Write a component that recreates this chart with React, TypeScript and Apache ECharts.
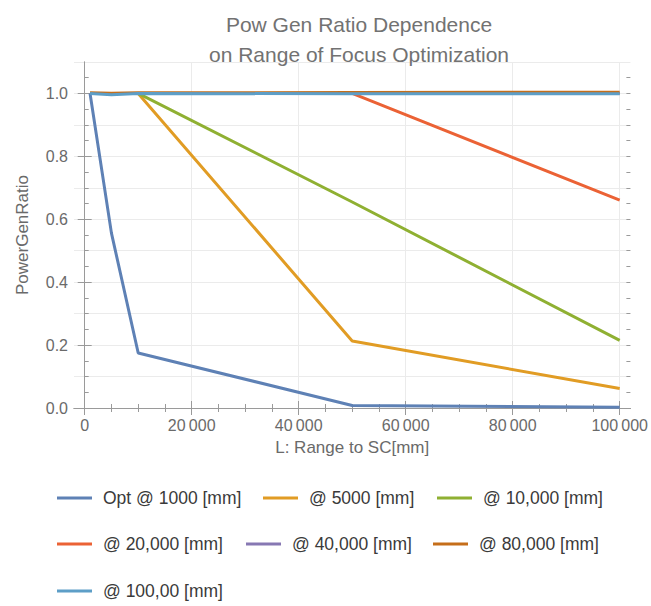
import React, { useEffect, useRef } from "react";
import * as echarts from "echarts";

// ---- data ----
const X_VALUES = [1000, 5000, 10000, 50000, 100000];
const OPT_1000 = [1.0, 0.556, 0.175, 0.008, 0.002];
const AT_5000 = [1.0, 1.0, 1.0, 0.213, 0.062];
const AT_10000 = [1.0, 1.0, 1.0, 0.655, 0.215];
const AT_20000 = [1.0, 1.0, 1.0, 1.0, 0.661];
const AT_40000 = [1.0, 1.0, 1.0, 1.0, 1.0];
const AT_80000 = [1.002, 1.001, 1.002, 1.003, 1.004];
const AT_100000 = [1.0, 0.996, 1.0, 0.999, 0.999];

const SERIES_NAMES = [
  "Opt @ 1000 [mm]",
  "@ 5000 [mm]",
  "@ 10,000 [mm]",
  "@ 20,000 [mm]",
  "@ 40,000 [mm]",
  "@ 80,000 [mm]",
  "@ 100,00 [mm]",
];
const SERIES_VALUES = [OPT_1000, AT_5000, AT_10000, AT_20000, AT_40000, AT_80000, AT_100000];
const COLORS = ["#5E81B5", "#E19C24", "#8FB032", "#EB6235", "#8778B3", "#C56E1A", "#5D9EC7"];

const X_MAJOR_TICKS = [0, 20000, 40000, 60000, 80000, 100000];
const X_MINOR_TICKS: number[] = [];
for (let v = 0; v <= 100000; v += 5000) X_MINOR_TICKS.push(v);
const Y_MAJOR_TICKS = [0, 0.2, 0.4, 0.6, 0.8, 1.0];
const Y_MINOR_TICKS: number[] = [];
for (let i = 0; i <= 21; i++) Y_MINOR_TICKS.push(Math.round(i * 5) / 100);

const TITLE = "Pow Gen Ratio Dependence\non Range of Focus Optimization";
const X_NAME = "L: Range to SC[mm]";
const Y_NAME = "PowerGenRatio";

const FONT = "'Liberation Sans', Arial, sans-serif";
const FRAME = "#9a9a9a";
const TEXT = "#6a6a6a";

function fmtX(v: number) {
  const s = String(Math.round(v));
  if (s.length > 3) return s.slice(0, s.length - 3) + "\u2009" + s.slice(s.length - 3);
  return s;
}

export default function App() {
  const ref = useRef<HTMLDivElement>(null);
  useEffect(() => {
    if (!ref.current) return;
    const chart = echarts.init(ref.current, undefined, { renderer: "svg" });

    const legendPos = [
      [57, 498], [263, 498], [437, 498],
      [57, 544], [246, 544], [433, 544],
      [57, 591],
    ];

    const xBase = { type: "value", min: -2000, max: 102000, gridIndex: 0 };
    const yBase = { type: "value", min: 0, max: 1.1, gridIndex: 0 };

    const option: any = {
      animation: false,
      backgroundColor: "#ffffff",
      title: {
        text: TITLE,
        left: 354,
        top: 4,
        textAlign: "center",
        textStyle: {
          fontFamily: FONT,
          fontSize: 21,
          fontWeight: "normal",
          color: "#727272",
          lineHeight: 30,
        },
      },
      grid: { left: 74, right: 17, top: 62, bottom: 198, containLabel: false },
      legend: SERIES_NAMES.map((n, i) => ({
        data: [{ name: n, icon: "rect" }],
        left: legendPos[i][0],
        top: legendPos[i][1] - 10,
        padding: 0,
        itemWidth: 35,
        itemHeight: 3,
        selectedMode: false,
        textStyle: {
          fontFamily: FONT,
          fontSize: 17.5,
          color: "#3a3a3a",
          lineHeight: 20,
          padding: [0, 0, 0, 6],
        },
      })),
      xAxis: [
        {
          ...xBase,
          position: "bottom",
          name: X_NAME,
          nameLocation: "middle",
          nameGap: 31,
          nameTextStyle: { fontFamily: FONT, fontSize: 17, color: TEXT },
          axisLine: { show: true, lineStyle: { color: FRAME, width: 1 } },
          axisTick: { show: true, inside: true, length: 7, customValues: X_MAJOR_TICKS, lineStyle: { color: FRAME } },
          axisLabel: {
            customValues: X_MAJOR_TICKS,
            formatter: fmtX,
            fontFamily: FONT,
            fontSize: 16,
            color: TEXT,
            margin: 9,
          },
          splitLine: { show: true, lineStyle: { color: "#ebebeb", width: 1 } },
        },
        {
          ...xBase,
          position: "bottom",
          axisLine: { show: false },
          axisTick: { show: true, inside: true, length: 4, customValues: X_MINOR_TICKS, lineStyle: { color: FRAME } },
          axisLabel: { show: false },
          splitLine: { show: false },
        },
        {
          ...xBase,
          position: "top",
          axisLine: { show: true, lineStyle: { color: FRAME, width: 1 } },
          axisTick: { show: true, inside: true, length: 7, customValues: X_MAJOR_TICKS, lineStyle: { color: FRAME } },
          axisLabel: { show: false },
          splitLine: { show: false },
        },
        {
          ...xBase,
          position: "top",
          axisLine: { show: false },
          axisTick: { show: true, inside: true, length: 4, customValues: X_MINOR_TICKS, lineStyle: { color: FRAME } },
          axisLabel: { show: false },
          splitLine: { show: false },
        },
      ],
      yAxis: [
        {
          ...yBase,
          position: "left",
          interval: 0.1,
          name: Y_NAME,
          nameLocation: "middle",
          nameGap: 43,
          nameRotate: 90,
          nameTextStyle: { fontFamily: FONT, fontSize: 17, color: TEXT },
          axisLine: { show: true, lineStyle: { color: FRAME, width: 1 } },
          axisTick: { show: false },
          axisLabel: {
            fontFamily: FONT,
            fontSize: 16,
            color: TEXT,
            margin: 6,
            formatter: (v: number) => (Math.round(v * 10) % 2 === 0 ? v.toFixed(1) : ""),
          },
          splitLine: { show: true, lineStyle: { color: "#ebebeb", width: 1 } },
        },
        {
          ...yBase,
          position: "left",
          axisLine: { show: false },
          axisTick: { show: true, inside: true, length: 7, customValues: Y_MAJOR_TICKS, lineStyle: { color: FRAME } },
          axisLabel: { show: false },
          splitLine: { show: false },
        },
        {
          ...yBase,
          position: "left",
          axisLine: { show: false },
          axisTick: { show: true, inside: true, length: 4, customValues: Y_MINOR_TICKS, lineStyle: { color: FRAME } },
          axisLabel: { show: false },
          splitLine: { show: false },
        },
        {
          ...yBase,
          position: "right",
          axisLine: { show: true, lineStyle: { color: FRAME, width: 1 } },
          axisTick: { show: true, inside: true, length: 7, customValues: Y_MAJOR_TICKS, lineStyle: { color: FRAME } },
          axisLabel: { show: false },
          splitLine: { show: false },
        },
        {
          ...yBase,
          position: "right",
          axisLine: { show: false },
          axisTick: { show: true, inside: true, length: 4, customValues: Y_MINOR_TICKS, lineStyle: { color: FRAME } },
          axisLabel: { show: false },
          splitLine: { show: false },
        },
      ],
      series: SERIES_NAMES.map((n, i) => ({
        name: n,
        type: "line",
        xAxisIndex: 0,
        yAxisIndex: 0,
        data: X_VALUES.map((x, j) => [x, SERIES_VALUES[i][j]]),
        showSymbol: false,
        symbol: "none",
        lineStyle: { color: COLORS[i], width: 3 },
        itemStyle: { color: COLORS[i] },
        z: 2 + i,
      })),
    };

    chart.setOption(option);
    return () => chart.dispose();
  }, []);

  return (
    <div
      ref={ref}
      style={{ position: "fixed", left: 0, top: 0, width: 651, height: 606, background: "#fff" }}
    />
  );
}
